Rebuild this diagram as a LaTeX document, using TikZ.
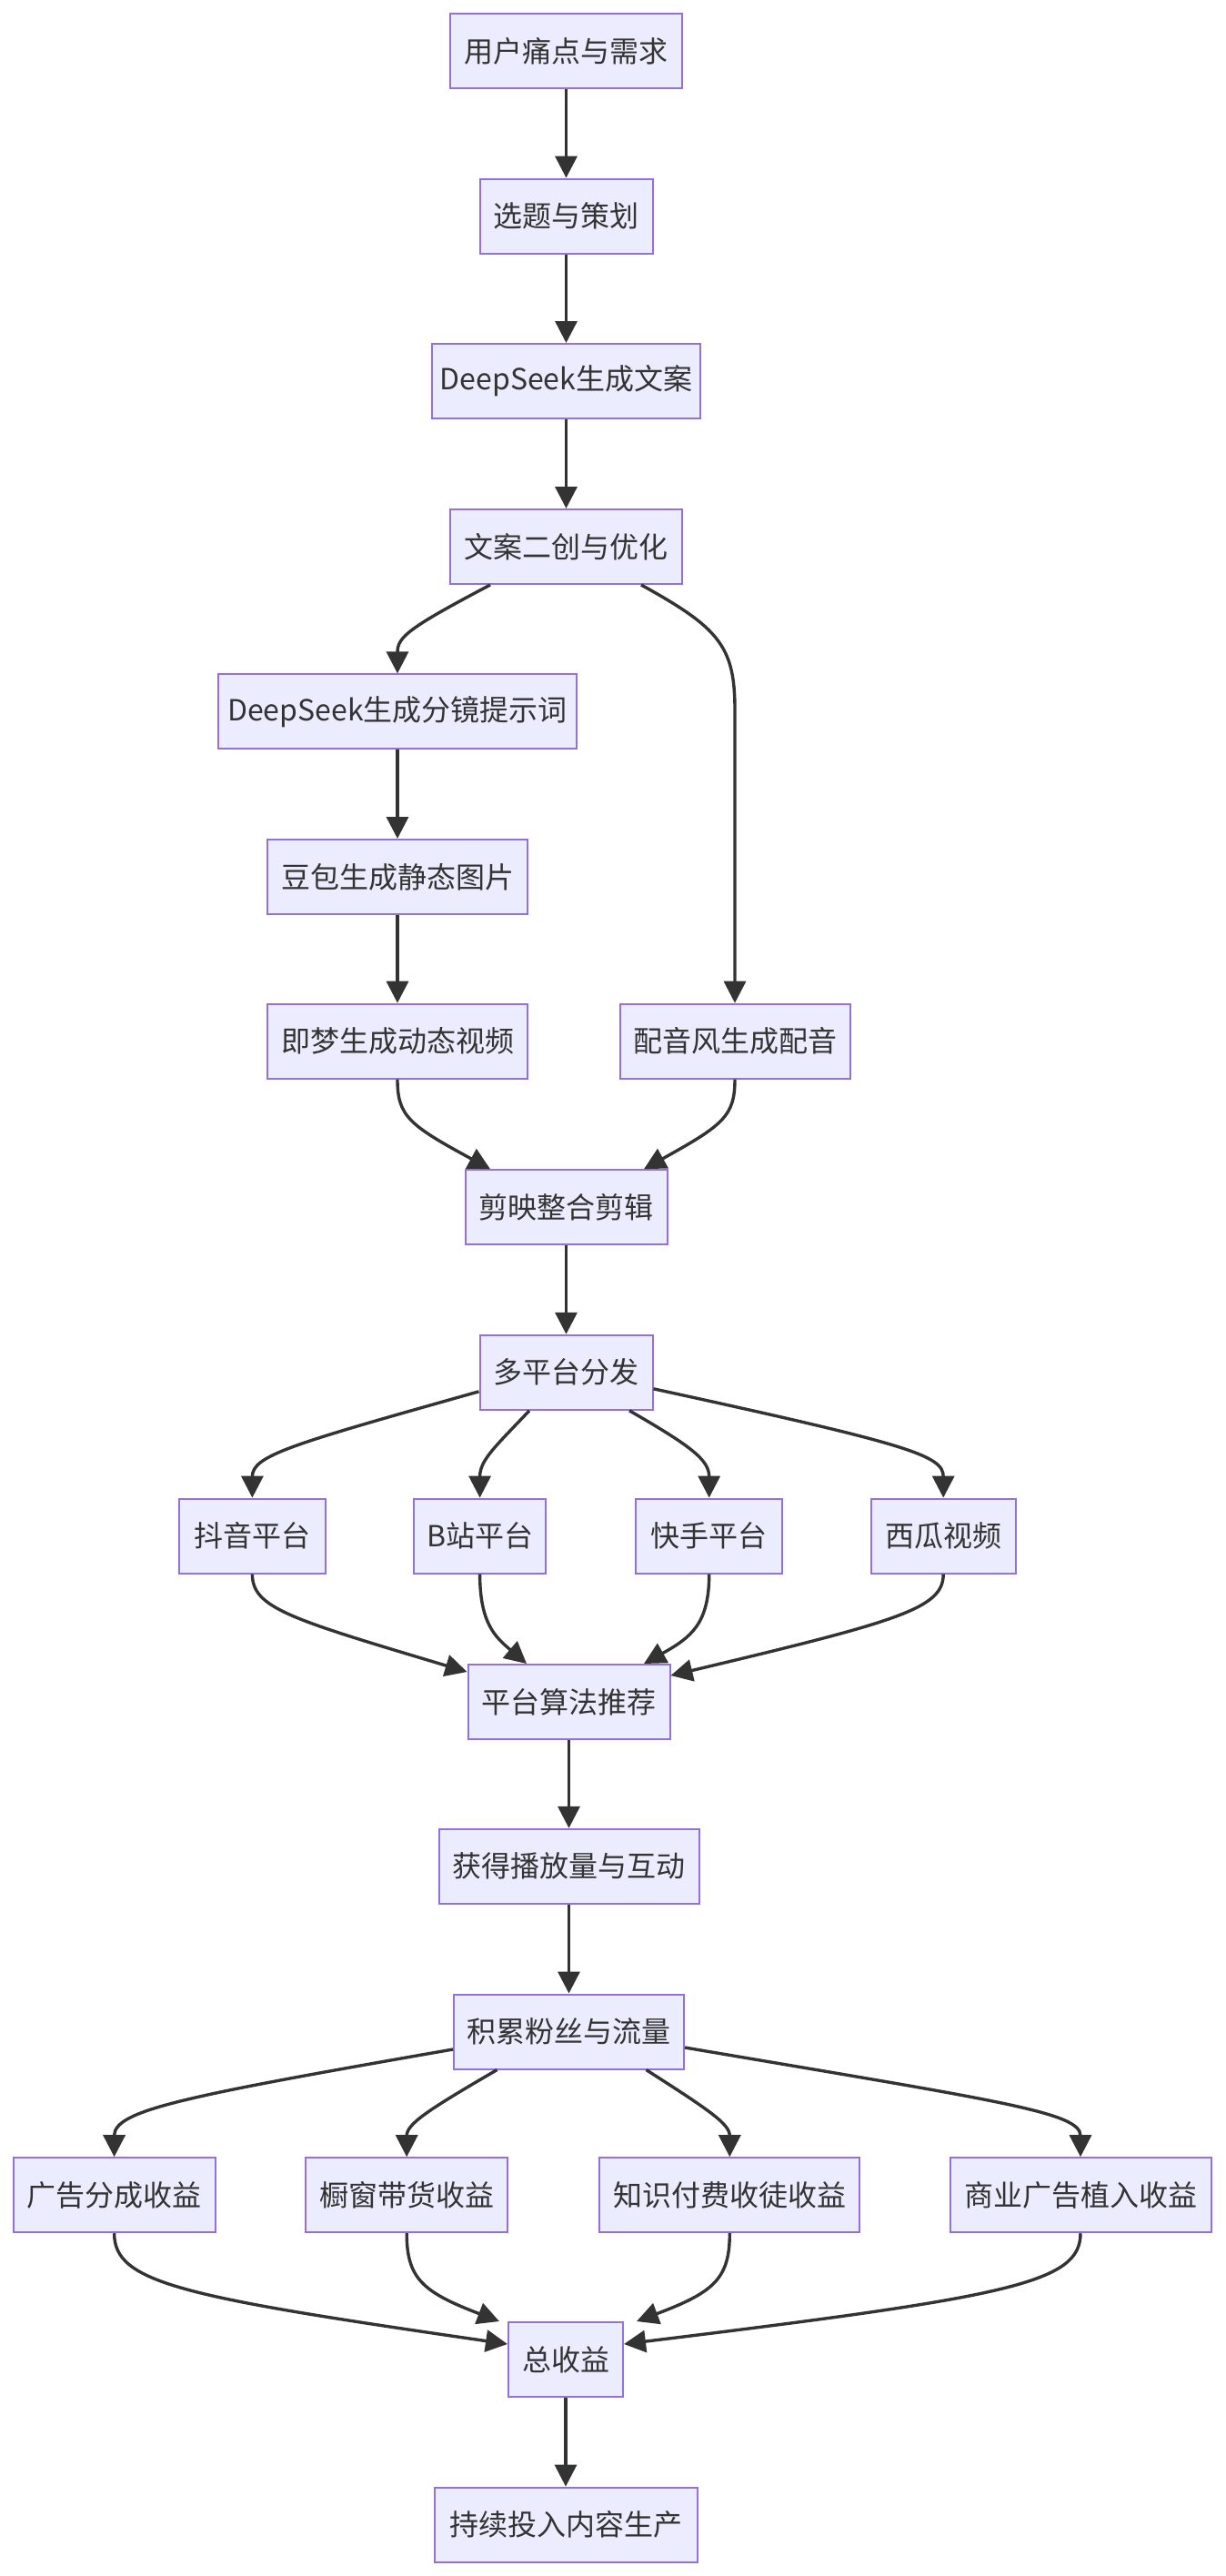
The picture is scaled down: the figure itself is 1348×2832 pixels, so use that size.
\documentclass[tikz,border=0pt]{standalone}
\usepackage{fontspec}
\setmainfont{Noto Sans CJK SC}
\usetikzlibrary{arrows.meta}
\definecolor{nodefill}{HTML}{ECECFF}
\definecolor{nodeborder}{HTML}{9370DB}
\definecolor{edgecol}{HTML}{333333}
\begin{document}
\begin{tikzpicture}[x=0.5pt,y=-0.5pt,
  box/.style={draw=nodeborder, fill=nodefill, line width=1pt, text=edgecol,
    font=\fontsize{16pt}{19pt}\selectfont, minimum height=41pt,
    inner xsep=3pt, inner ysep=0pt, anchor=center},
  edge/.style={draw=edgecol, line width=1.7pt, -{Triangle[length=12pt,width=12pt]}}]
\useasboundingbox[fill=white] (0,0) rectangle (1348,2832);

\node[box, minimum width=127.5pt] (n1) at (622.5,56) {用户痛点与需求};
\node[box, minimum width=95pt] (n2) at (622.5,237.6) {选题与策划};
\node[box, minimum width=147.5pt] (n3) at (622.5,419) {DeepSeek生成文案};
\node[box, minimum width=127.5pt] (n4) at (622.5,601) {文案二创与优化};
\node[box, minimum width=197pt] (n5) at (437,782.4) {DeepSeek生成分镜提示词};
\node[box, minimum width=143pt] (n6) at (437,964) {豆包生成静态图片};
\node[box, minimum width=143pt] (n7) at (437,1144.7) {即梦生成动态视频};
\node[box, minimum width=126.5pt] (n8) at (808,1144.7) {配音风生成配音};
\node[box, minimum width=111pt] (n9) at (622.5,1327.2) {剪映整合剪辑};
\node[box, minimum width=95pt] (n10) at (622.5,1508.8) {多平台分发};
\node[box, minimum width=80.5pt] (n11) at (277.4,1688.6) {抖音平台};
\node[box, minimum width=72.3pt] (n12) at (527.6,1688.6) {B站平台};
\node[box, minimum width=80.5pt] (n13) at (779.7,1688.6) {快手平台};
\node[box, minimum width=79.5pt] (n14) at (1037.2,1688.6) {西瓜视频};
\node[box, minimum width=111pt] (n15) at (625.5,1871) {平台算法推荐};
\node[box, minimum width=143pt] (n16) at (625.5,2051.8) {获得播放量与互动};
\node[box, minimum width=126.5pt] (n17) at (625.5,2233.5) {积累粉丝与流量};
\node[box, minimum width=111pt] (n18) at (125.6,2413.2) {广告分成收益};
\node[box, minimum width=111pt] (n19) at (447.2,2413.2) {橱窗带货收益};
\node[box, minimum width=143pt] (n20) at (802.3,2413.2) {知识付费收徒收益};
\node[box, minimum width=143.5pt] (n21) at (1188,2413.2) {商业广告植入收益};
\node[box, minimum width=63pt] (n22) at (622,2594) {总收益};
\node[box, minimum width=144.5pt] (n23) at (622,2775.6) {持续投入内容生产};

% straight edges
\draw[edge] (n1.south) -- (n2.north);
\draw[edge] (n2.south) -- (n3.north);
\draw[edge] (n3.south) -- (n4.north);
\draw[edge] (n5.south) -- (n6.north);
\draw[edge] (n6.south) -- (n7.north);
\draw[edge] (n9.south) -- (n10.north);
\draw[edge] (n15.south) -- (n16.north);
\draw[edge] (n16.south) -- (n17.north);
\draw[edge] (n22.south) -- (n23.north);

% branch from n4
\draw[edge] ([xshift=-41.75pt]n4.south) .. controls (450,690) and (437,700) .. (n5.north);
\draw[edge] ([xshift=41.25pt]n4.south) .. controls (790,690) and (808,710) .. (808,780) -- (n8.north);

% merge to n9
\draw[edge] (n7.south) .. controls (437,1227) and (450,1237) .. ([xshift=-41.75pt]n9.north);
\draw[edge] (n8.south) .. controls (808,1227) and (795,1237) .. ([xshift=42.75pt]n9.north);

% distribution from n10
\draw[edge] ([yshift=-10.5pt]n10.west) .. controls (320,1588) and (277.4,1600) .. (n11.north);
\draw[edge] ([xshift=-20.25pt]n10.south) .. controls (545,1590) and (527.6,1605) .. (n12.north);
\draw[edge] ([xshift=34.75pt]n10.south) .. controls (760,1590) and (779.7,1605) .. (n13.north);
\draw[edge] ([yshift=-9pt]n10.east) .. controls (1000,1588) and (1037.2,1600) .. (n14.north);

% merge to n15
\draw[edge] (n11.south) .. controls (277.4,1768) and (320,1780) .. ([yshift=16.5pt]n15.west);
\draw[edge] (n12.south) .. controls (527.6,1785) and (545,1800) .. ([xshift=-23.25pt]n15.north);
\draw[edge] (n13.south) .. controls (779.7,1785) and (760,1800) .. ([xshift=41.25pt]n15.north);
\draw[edge] (n14.south) .. controls (1037.2,1768) and (990,1782) .. ([yshift=14.5pt]n15.east);

% revenue from n17
\draw[edge] ([yshift=-9.75pt]n17.west) .. controls (200,2305) and (125.6,2320) .. (n18.north);
\draw[edge] ([xshift=-39.5pt]n17.south) .. controls (470,2320) and (447.2,2335) .. (n19.north);
\draw[edge] ([xshift=42.5pt]n17.south) .. controls (780,2320) and (802.3,2335) .. (n20.north);
\draw[edge] ([yshift=-8.75pt]n17.east) .. controls (1100,2310) and (1188,2322) .. (n21.north);

% merge to n22
\draw[edge] (n18.south) .. controls (125.6,2510) and (200,2525) .. ([yshift=8.5pt]n22.west);
\draw[edge] (n19.south) .. controls (447.2,2505) and (465,2520) .. ([xshift=-36.5pt]n22.north);
\draw[edge] (n20.south) .. controls (802.3,2505) and (785,2520) .. ([xshift=39pt]n22.north);
\draw[edge] (n21.south) .. controls (1188,2510) and (1110,2525) .. ([yshift=8.5pt]n22.east);
\end{tikzpicture}
\end{document}
